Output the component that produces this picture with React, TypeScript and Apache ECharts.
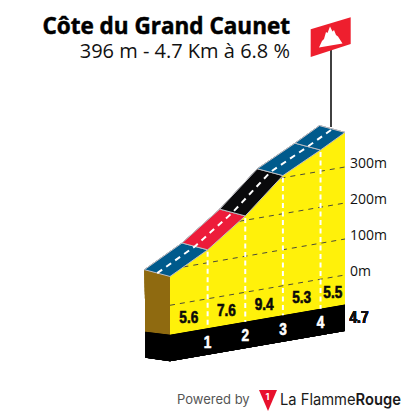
import React, { useEffect, useRef } from "react";
import * as echarts from "echarts";

const title = "Côte du Grand Caunet";
const subtitle = "396 m - 4.7 Km à 6.8 %";
const kmMarks = [0, 1, 2, 3, 4, 4.65];
const altitudes = [80, 136, 212, 306, 359, 396];
const gradients = ["5.6", "7.6", "9.4", "5.3", "5.5"];
const gradientColors = ["#005a8c", "#ed1c3a", "#0a0a0c", "#005a8c", "#005a8c"];
const kmLabels = ["1", "2", "3", "4"];
const totalLabel = "4.7";
const gridAltitudes = [0, 100, 200, 300];

const NARROW = '"Liberation Sans Narrow", "Liberation Sans", sans-serif';
const SKEW = 0.173;
const RIGHT = 345;
const DEPTH_X = -25.5;
const DEPTH_Y = -6.8;
const BLACK = 26.5;

function altitudeAt(km: number) {
  for (let i = 0; i < kmMarks.length - 1; i++) {
    if (km <= kmMarks[i + 1]) {
      const t = (km - kmMarks[i]) / (kmMarks[i + 1] - kmMarks[i]);
      return altitudes[i] + t * (altitudes[i + 1] - altitudes[i]);
    }
  }
  return altitudes[altitudes.length - 1];
}

function kmWhereAltitude(alt: number) {
  if (alt <= altitudes[0]) return 0;
  for (let i = 0; i < altitudes.length - 1; i++) {
    if (alt <= altitudes[i + 1]) {
      const t = (alt - altitudes[i]) / (altitudes[i + 1] - altitudes[i]);
      return kmMarks[i] + t * (kmMarks[i + 1] - kmMarks[i]);
    }
  }
  return kmMarks[kmMarks.length - 1];
}

function renderProfile(_params: any, api: any) {
  const pt = (km: number, alt: number) => {
    const c = api.coord([km, alt]);
    return [c[0], c[1] + SKEW * (RIGHT - c[0])];
  };
  const ground = (km: number) => [pt(km, 0)[0], pt(km, 0)[1] + 29.5];
  const last = kmMarks[kmMarks.length - 1];
  const top = kmMarks.map((k, i) => pt(k, altitudes[i]));
  const children: any[] = [];

  const poly = (points: number[][], fill: string, extra: any = {}) => ({
    type: "polygon",
    shape: { points },
    style: { fill, ...extra },
  });

  const g0 = ground(0);
  const gEnd = ground(last);
  const back = (p: number[]) => [p[0] + DEPTH_X, p[1] + DEPTH_Y];
  const brownTop = back(top[0]);
  const backBottom = [brownTop[0] + 1, g0[1] - 3];

  // side faces
  children.push(poly([brownTop, top[0], g0, backBottom], "#8f6a10"));
  children.push(
    poly([backBottom, g0, [g0[0], g0[1] + BLACK], [backBottom[0], backBottom[1] + BLACK - 0.5]], "#000000")
  );
  // front face
  children.push(poly([...top, gEnd, g0], "#fff10a"));
  children.push(poly([g0, gEnd, [gEnd[0], gEnd[1] + BLACK], [g0[0], g0[1] + BLACK]], "#000000"));

  // altitude grid
  gridAltitudes.forEach((alt) => {
    const k = kmWhereAltitude(alt);
    children.push({
      type: "line",
      shape: { x1: pt(k, alt)[0], y1: pt(k, alt)[1], x2: pt(last, alt)[0], y2: pt(last, alt)[1] },
      style: { stroke: "#4a4a3a", lineWidth: 1, lineDash: [5, 5] },
    });
  });

  // km marks
  kmMarks.slice(1, 5).forEach((k) => {
    const a = pt(k, altitudeAt(k));
    const b = ground(k);
    children.push({
      type: "line",
      shape: { x1: a[0], y1: a[1] + 2, x2: b[0], y2: b[1] },
      style: { stroke: "#ffffff", lineWidth: 2, lineDash: [5, 3.5] },
    });
  });

  // road
  gradientColors.forEach((color, i) => {
    children.push(
      poly([top[i], top[i + 1], back(top[i + 1]), back(top[i])], color, {
        stroke: "#bdbdc2",
        lineWidth: 1,
        lineJoin: "round",
      })
    );
  });
  children.push({
    type: "polyline",
    shape: { points: top.map((p) => [p[0] + DEPTH_X / 2, p[1] + DEPTH_Y / 2]) },
    style: { stroke: "#ffffff", fill: "none", lineWidth: 2, lineDash: [6, 5] },
  });

  const label = (text: string, x: number, y: number, fill: string, strokeWidth = 0.6) => ({
    type: "text",
    x,
    y,
    scaleX: 0.85,
    style: {
      text,
      fill,
      font: `bold 16px ${NARROW}`,
      align: "center",
      verticalAlign: "middle",
      stroke: fill,
      lineWidth: strokeWidth,
    },
  });

  // gradients between km marks
  gradients.forEach((g, i) => {
    const mid = (kmMarks[i] + kmMarks[i + 1]) / 2;
    const b = ground(mid);
    children.push(label(g, b[0], b[1] - 14, "#0a0a0a"));
  });
  kmLabels.forEach((t, i) => {
    const b = ground(kmMarks[i + 1]);
    children.push(label(t, b[0], b[1] + 14, "#ffffff"));
  });
  children.push(label(totalLabel, gEnd[0] + 14, gEnd[1] + 13, "#111111", 0.2));

  return { type: "group", children };
}

export default function App() {
  const ref = useRef<HTMLDivElement>(null);
  useEffect(() => {
    document.body.style.margin = "0";
    document.body.style.background = "#ffffff";
    const chart = echarts.init(ref.current!, undefined, { renderer: "svg" });
    chart.setOption({
      animation: false,
      backgroundColor: "#ffffff",
      grid: { left: 170, right: 60, top: 95, bottom: 69 },
      xAxis: { type: "value", min: 0, max: 4.65, show: false },
      yAxis: {
        type: "value",
        position: "right",
        min: -200,
        max: 500,
        interval: 100,
        splitLine: { show: false },
        axisLine: { show: false },
        axisTick: { show: false },
        axisLabel: {
          customValues: gridAltitudes,
          formatter: (v: number) => `${v}m`,
          margin: 5,
          color: "#111111",
          fontFamily: '"Open Sans", sans-serif',
          fontSize: 14,
          verticalAlign: "bottom",
          lineHeight: 10,
        },
      },
      series: [
        {
          type: "custom",
          coordinateSystem: "cartesian2d",
          clip: false,
          renderItem: renderProfile,
          data: kmMarks.map((k, i) => [k, altitudes[i]]),
          encode: { x: 0, y: 1 },
          silent: true,
        },
      ],
      graphic: [
        {
          type: "text",
          x: 290,
          y: 25,
          style: {
            text: title,
            fill: "#000000",
            font: 'bold 22.5px "Open Sans", sans-serif',
            lineHeight: 24,
            align: "right",
            verticalAlign: "middle",
            stroke: "#000000",
            lineWidth: 0.5,
          },
        },
        {
          type: "text",
          x: 290,
          y: 50,
          style: {
            text: subtitle,
            fill: "#111111",
            font: '20px "Open Sans", sans-serif',
            lineHeight: 24,
            align: "right",
            verticalAlign: "middle",
          },
        },
        {
          type: "line",
          shape: { x1: 331, y1: 50, x2: 331, y2: 127 },
          style: { stroke: "#111111", lineWidth: 1.6 },
        },
        {
          type: "polygon",
          shape: { points: [[310.7, 29.3], [350.7, 17.3], [350.7, 44], [310.7, 57]] },
          style: { fill: "#ee1f2e" },
        },
        {
          type: "polygon",
          shape: {
            points: [
              [319, 47.5], [322, 41], [324, 39], [326, 32], [327.5, 33], [330, 26.5], [332.5, 31.5],
              [334, 30], [336, 35], [338, 36.5], [342.5, 43.5],
            ],
          },
          style: { fill: "#ffffff" },
        },
        {
          type: "text",
          x: 177,
          y: 398.5,
          style: {
            text: "Powered by",
            fill: "#555555",
            font: '13px Inter, sans-serif',
            align: "left",
            verticalAlign: "middle",
          },
        },
        {
          type: "polygon",
          shape: { points: [[259, 390], [277, 390], [268, 411]] },
          style: { fill: "#e8112d" },
        },
        {
          type: "text",
          x: 267.5,
          y: 396.5,
          style: {
            text: "1",
            fill: "#ffffff",
            font: 'bold 9px Inter, sans-serif',
            align: "center",
            verticalAlign: "middle",
          },
        },
        {
          type: "text",
          x: 280,
          y: 399,
          scaleX: 0.92,
          style: {
            rich: {
              a: { fill: "#1a1a1a", font: '16px Inter, sans-serif' },
              b: { fill: "#1a1a1a", font: '600 16px Inter, sans-serif' },
            },
            text: "{a|La Flamme}{b|Rouge}",
            align: "left",
            verticalAlign: "middle",
          },
        },
      ],
    });
    return () => chart.dispose();
  }, []);
  return <div ref={ref} style={{ width: 405, height: 416 }} />;
}
